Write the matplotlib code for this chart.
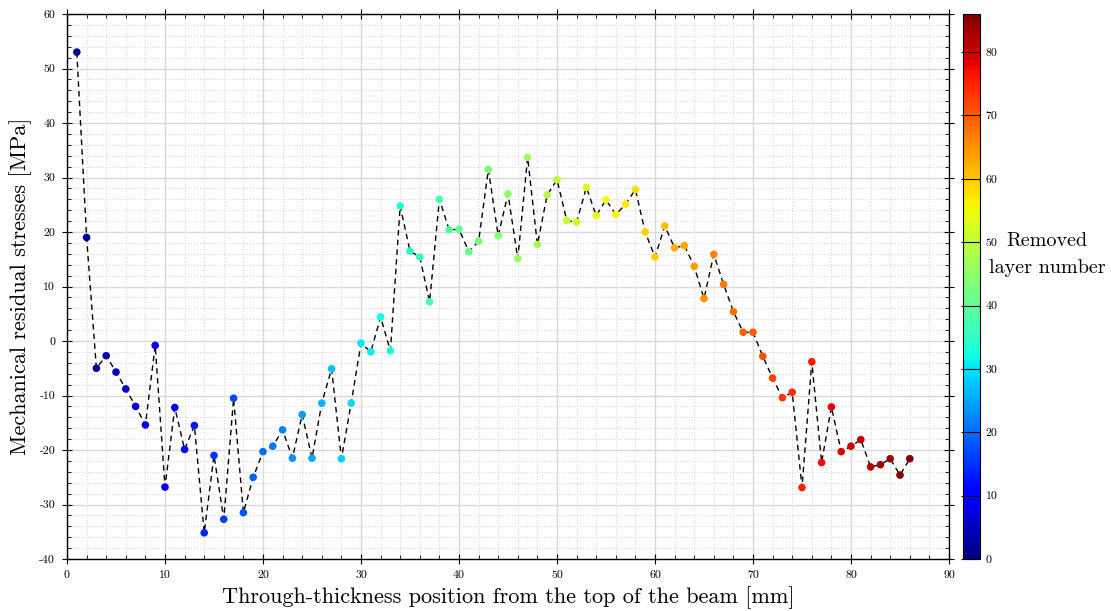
import numpy as np
import matplotlib
matplotlib.use("Agg")
import matplotlib.pyplot as plt
from matplotlib.ticker import MultipleLocator

plt.rcParams['font.family'] = ['cmr10', 'DejaVu Serif']
plt.rcParams['mathtext.fontset'] = 'cm'
plt.rcParams['axes.unicode_minus'] = False
plt.rcParams['axes.formatter.use_mathtext'] = False

layers = list(range(1, 87))
positions = list(range(1, 87))
stresses = [53.0, 19.0, -5.0, -2.7, -5.7, -8.8, -12.0, -15.4, -0.8, -26.8,
            -12.2, -19.9, -15.5, -35.2, -21.0, -32.7, -10.5, -31.5, -25.0, -20.3,
            -19.3, -16.3, -21.5, -13.5, -21.5, -11.4, -5.1, -21.6, -11.4, -0.4,
            -2.0, 4.4, -1.8, 24.8, 16.5, 15.4, 7.2, 26.0, 20.4, 20.5,
            16.4, 18.3, 31.5, 19.3, 27.0, 15.1, 33.7, 17.7, 26.8, 29.6,
            22.1, 21.8, 28.2, 23.0, 25.9, 23.2, 25.1, 27.8, 20.0, 15.4,
            21.1, 17.1, 17.5, 13.7, 7.8, 15.9, 10.4, 5.4, 1.6, 1.6,
            -2.8, -6.8, -10.4, -9.4, -26.9, -3.8, -22.3, -12.1, -20.3, -19.3,
            -18.1, -23.1, -22.7, -21.6, -24.6, -21.6]
cbar_ticks = [0, 10, 20, 30, 40, 50, 60, 70, 80]
cbar_label_lines = ['Removed', 'layer number']

fig = plt.figure(figsize=(11.11, 6.11), dpi=100)
ax = fig.add_axes([67/1111, 1-559/611, (949-67)/1111, (559-14)/611])
cax = fig.add_axes([963/1111, 1-559/611, 17/1111, (559-14)/611])

ax.plot(positions, stresses, linestyle=(0, (4, 3)), color='black', lw=1.0, zorder=2)
sc = ax.scatter(positions, stresses, c=layers, cmap='jet', vmin=0, vmax=86,
                s=30, zorder=3, edgecolors='none')

ax.set_xlim(0, 90)
ax.set_ylim(-40, 60)
ax.xaxis.set_major_locator(MultipleLocator(10))
ax.xaxis.set_minor_locator(MultipleLocator(2))
ax.yaxis.set_major_locator(MultipleLocator(10))
ax.yaxis.set_minor_locator(MultipleLocator(2))
ax.grid(which='major', color='#d8d8d8', lw=1.0, ls='-', zorder=0)
ax.grid(which='minor', color='#d8d8d8', lw=0.8, ls=':', zorder=0)
ax.set_axisbelow(True)
ax.tick_params(which='both', top=True, right=True, labelsize=8.5)
ax.tick_params(which='major', direction='inout', length=7, pad=5)
ax.tick_params(which='minor', direction='in', length=3)
for s in ax.spines.values():
    s.set_linewidth(1.0)

ax.set_xlabel('Through-thickness position from the top of the beam [mm]', fontsize=16, labelpad=4)
ax.set_ylabel('Mechanical residual stresses [MPa]', fontsize=16, labelpad=5)

cb = fig.colorbar(sc, cax=cax, ticks=cbar_ticks)
cb.ax.tick_params(direction='in', length=14, width=0.8, labelsize=8.5, pad=4)
cb.outline.set_linewidth(0.8)
fig.text(1047/1111, 1-241/611, cbar_label_lines[0], fontsize=14.5,
         ha='center', va='center')
fig.text(1047/1111, 1-268/611, cbar_label_lines[1], fontsize=14.5,
         ha='center', va='center')

fig.savefig('out.png', dpi=100)
